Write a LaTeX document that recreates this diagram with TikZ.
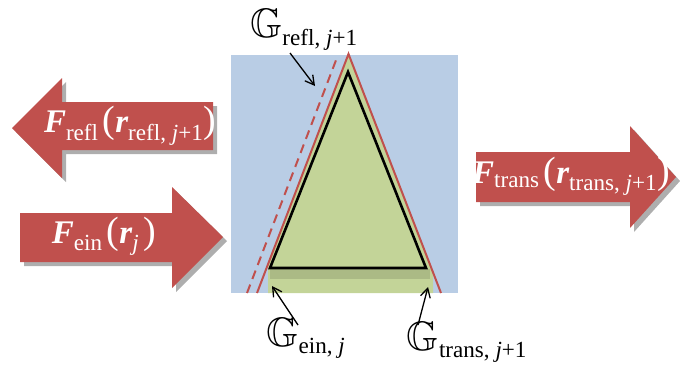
\documentclass[tikz,border=0pt]{standalone}
\usepackage{fontspec}
\setmainfont{Liberation Serif}
\usepackage{amsmath,amssymb,graphicx}
\usetikzlibrary{shadows,arrows.meta}
\definecolor{bgblue}{RGB}{185,205,229}
\definecolor{tgreen}{RGB}{195,212,152}
\definecolor{ared}{RGB}{192,80,77}
\newcommand{\bivar}[1]{\text{\bfseries\itshape #1}}
\newcommand{\sub}[1]{\text{#1}}
\newcommand{\lpar}{\,\text{\fontsize{38}{38}\selectfont (}}
\newcommand{\rpar}{\text{\fontsize{38}{38}\selectfont )}}
\newcommand{\bbG}{\scalebox{1.25}{$\mathbb{G}$}}
\tikzset{
  bigarrow/.style={fill=ared, drop shadow={shadow xshift=4pt, shadow yshift=-4pt, opacity=0.45, fill=black!70}},
  arrowtext/.style={text=white, inner sep=0pt, font=\fontsize{33}{38}\selectfont},
  glabel/.style={text=black, inner sep=0pt, font=\fontsize{33}{38}\selectfont},
  redline/.style={draw=ared, line width=2pt},
  pointer/.style={draw=black, line width=1.3pt, -{Straight Barb[length=9pt,width=10pt,line width=1.3pt]}}
}
\begin{document}
\begin{tikzpicture}[x=1pt,y=-1pt]
\useasboundingbox (0,0) rectangle (680,376);
% background
\fill[bgblue] (231,55) rectangle (458,293);
% green region
\fill[tgreen] (348.5,55) -- (268,263) -- (268,293) -- (433,293) -- (433,272) -- cycle;
\fill[black, opacity=0.12] (270,269) rectangle (430,279);
% red boundaries
\draw[redline, dash pattern=on 9pt off 6pt] (247,293) -- (338,55);
\coordinate (apex) at (348.5,54);
\draw[redline] (257,293) -- (apex) -- (441,293);
% black triangle
\draw[black, line width=2.6pt, line join=miter] (348,72) -- (270,268) -- (426,268) -- cycle;
% arrows
\fill[bigarrow] (213,102) -- (62,102) -- (62,78) -- (12,128) -- (62,178) -- (62,150) -- (213,150) -- cycle;
\fill[bigarrow] (20,213) -- (172,213) -- (172,187) -- (223,237) -- (172,288) -- (172,262) -- (20,262) -- cycle;
\fill[bigarrow] (476,152) -- (630,152) -- (630,126) -- (676,177) -- (630,228) -- (630,202) -- (476,202) -- cycle;
\node[arrowtext] (frefl) at (130,126) {$\bivar{F}_{\sub{refl}}\lpar\bivar{r}_{\sub{refl, \itshape j\upshape +1}}\rpar$};
\node[arrowtext] (fein) at (104,236) {$\bivar{F}_{\sub{ein}}\lpar\bivar{r}_{\sub{\itshape j}}\,\rpar$};
\node[arrowtext] (ftrans) at (571,176) {$\bivar{F}_{\sub{trans}}\lpar\bivar{r}_{\sub{trans, \itshape j\upshape +1}}\rpar$};
% labels
\node[glabel] (grefl) at (304,30) {$\bbG_{\sub{refl, \itshape j\upshape +1}}$};
\node[glabel] (gein) at (306,338) {$\bbG_{\sub{ein, \itshape j}}$};
\node[glabel] (gtrans) at (467,342) {$\bbG_{\sub{trans, \itshape j\upshape +1}}$};
\coordinate (preflend) at (315,86);
\coordinate (peinend) at (272,286);
\coordinate (ptransend) at (428,287);
\draw[pointer] (290,53) -- (preflend);
\draw[pointer] (298,325) -- (peinend);
\draw[pointer] (418,325) -- (ptransend);
\end{tikzpicture}
\end{document}
